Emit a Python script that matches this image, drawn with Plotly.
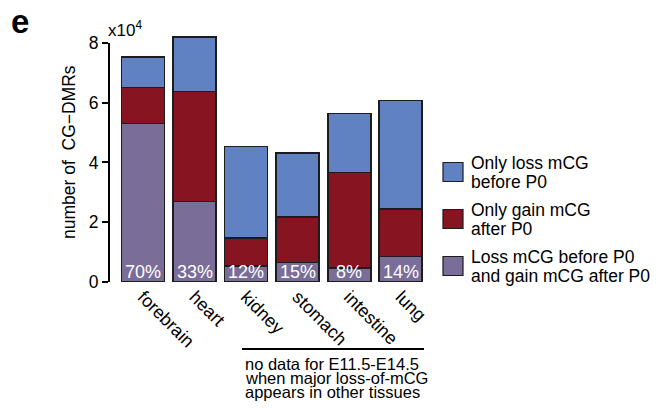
import plotly.graph_objects as go

# CG-DMR counts per tissue, split by methylation dynamics
tissues = ["forebrain", "heart", "kidney", "stomach", "intestine", "lung"]
both_loss_gain = [53100, 26900, 5450, 6500, 4600, 8500]      # Loss mCG before P0 and gain mCG after P0
only_gain = [12000, 36900, 9250, 15300, 32000, 15900]        # Only gain mCG after P0
only_loss = [10300, 18100, 30600, 21400, 19800, 36400]       # Only loss mCG before P0

y_tick_values = [0, 20000, 40000, 60000, 80000]
y_tick_labels = ["0", "2", "4", "6", "8"]

series_names = [
    "Loss mCG before P0 and gain mCG after P0",
    "Only gain mCG after P0",
    "Only loss mCG before P0",
]
COL_BOTH = "#7a6d98"
COL_GAIN = "#861521"
COL_LOSS = "#6182c2"
FONT = "Liberation Sans, Arial, sans-serif"

W, H = 661, 408
L, R, T, B = 109, 236, 31, 126
PW, PH = W - L - R, H - T - B


def px(x):
    return (x - L) / PW


def py(y):
    return (H - B - y) / PH


fig = go.Figure()
outline = dict(color="#1c1c1c", width=1.6)
for vals, name, col in [
    (both_loss_gain, series_names[0], COL_BOTH),
    (only_gain, series_names[1], COL_GAIN),
    (only_loss, series_names[2], COL_LOSS),
]:
    fig.add_trace(go.Bar(x=tissues, y=vals, name=name,
                         marker=dict(color=col, line=outline),
                         showlegend=False))

annotations = []
# share of DMRs that both lose and regain methylation, printed at the bar base
for t, b, g, l in zip(tissues, both_loss_gain, only_gain, only_loss):
    share = round(100 * b / (b + g + l))
    annotations.append(dict(x=t, y=0, xref="x", yref="y", text=f"{share}%",
                            showarrow=False, yanchor="bottom", yshift=-2,
                            font=dict(family=FONT, size=18, color="white")))

shapes = []
# y-axis spine ending at the last tick
shapes.append(dict(type="line", xref="paper", yref="y", x0=0, x1=0,
                   y0=0, y1=80000, line=dict(color="black", width=2)))

# manual legend with tight two-line labels
legend_items = [
    (COL_LOSS, ["Only loss mCG", "before P0"], 172),
    (COL_GAIN, ["Only gain mCG", "after P0"], 219),
    (COL_BOTH, ["Loss mCG before P0", "and gain mCG after P0"], 266),
]
for col, lines, yc in legend_items:
    shapes.append(dict(type="rect", xref="paper", yref="paper",
                       x0=px(443), x1=px(463), y0=py(yc - 9.5), y1=py(yc + 9.5),
                       fillcolor=col, line=dict(color="#1c1c1c", width=1.2)))
    for k, line in enumerate(lines):
        annotations.append(dict(x=px(469), y=py(yc - 9 + 19 * k),
                                xref="paper", yref="paper", text=line,
                                showarrow=False, xanchor="left",
                                yanchor="middle", align="left",
                                font=dict(family=FONT, size=17.5, color="black")))

# bracket over the tissues lacking early embryonic data
shapes.append(dict(type="line", xref="paper", yref="paper",
                   x0=px(242), x1=px(424), y0=py(349), y1=py(349),
                   line=dict(color="black", width=2)))
note_lines = ["no data for E11.5-E14.5", "when major loss-of-mCG",
              "appears in other tissues"]
for i, line in enumerate(note_lines):
    annotations.append(dict(x=px(243), y=py(363.5 + 14 * i), xref="paper",
                            yref="paper", text=line, showarrow=False,
                            xanchor="left", yanchor="middle",
                            font=dict(family=FONT, size=16.5, color="black")))

annotations.append(dict(x=px(69), y=py(152), xref="paper", yref="paper",
                        text="number of  CG\u2212DMRs", showarrow=False,
                        textangle=-90, xanchor="center", yanchor="middle",
                        font=dict(family=FONT, size=17.5, color="black")))
annotations.append(dict(x=px(106), y=py(29), xref="paper", yref="paper",
                        text="x10<sup>4</sup>", showarrow=False,
                        xanchor="left", yanchor="middle",
                        font=dict(family=FONT, size=17, color="black")))
annotations.append(dict(x=px(9), y=py(21), xref="paper", yref="paper",
                        text="<b>e</b>", showarrow=False,
                        xanchor="left", yanchor="middle",
                        font=dict(family=FONT, size=33, color="black")))

fig.update_layout(
    width=W, height=H,
    margin=dict(l=L, r=R, t=T, b=B, pad=0),
    paper_bgcolor="white", plot_bgcolor="white",
    barmode="stack", bargap=0.166,
    font=dict(family=FONT, color="black"),
    shapes=shapes,
    annotations=annotations,
    xaxis=dict(range=[-0.659, 5.47], showline=False, showgrid=False,
               zeroline=False, ticks="", tickangle=45,
               tickfont=dict(family=FONT, size=18, color="black")),
    yaxis=dict(range=[0, 84000], showline=False, showgrid=False,
               zeroline=False, ticks="outside", ticklen=6, tickwidth=2,
               tickcolor="black", tickvals=y_tick_values,
               ticktext=y_tick_labels,
               tickfont=dict(family=FONT, size=17.5, color="black")),
)

fig.write_html("out.html")
